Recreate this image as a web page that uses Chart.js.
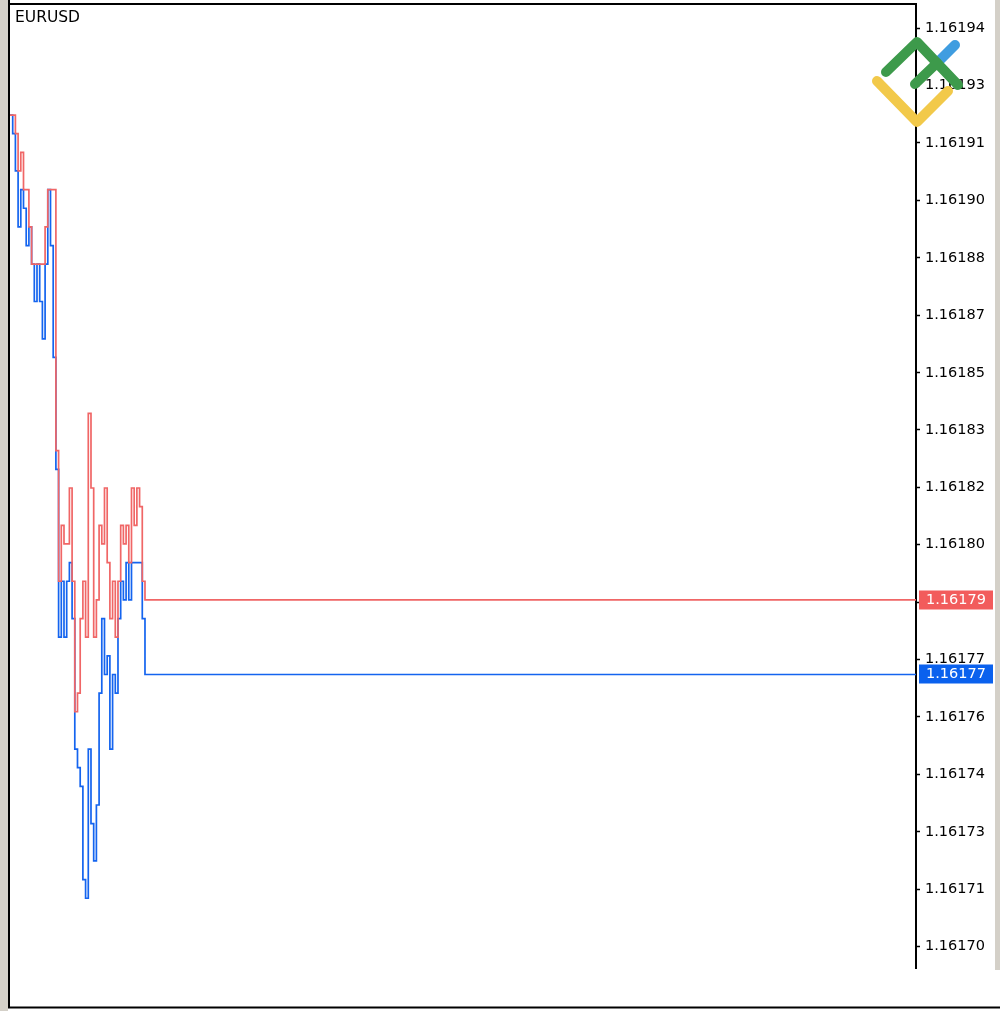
<!DOCTYPE html>
<html>
<head>
<meta charset="utf-8">
<script src="https://cdn.jsdelivr.net/npm/chart.js@4.4.1/dist/chart.umd.min.js"></script>
<style>
html,body{margin:0;padding:0;background:#fff;}
#wrap{position:relative;width:1000px;height:1011px;}
</style>
</head>
<body>
<div id="wrap"><canvas id="c"></canvas></div>
<script>
const SYMBOL = 'EURUSD';
// ask / bid per tick (one entry per tick)
const ASK = [1.16192,1.16192,1.161915,1.161905,1.16191,1.1619,1.1619,1.16189,1.16188,1.16188,
  1.16188,1.16188,1.16188,1.16189,1.1619,1.1619,1.1619,1.16183,1.161795,1.16181,
  1.161805,1.161805,1.16182,1.161795,1.16176,1.161765,1.161785,1.161795,1.16178,1.16184,
  1.16182,1.16178,1.16179,1.16181,1.161805,1.16182,1.1618,1.161785,1.161795,1.16178,
  1.161795,1.16181,1.161805,1.16181,1.1618,1.16182,1.16181,1.16182,1.161815,1.161795,
  1.16179];
const BID = [1.16192,1.161915,1.161905,1.16189,1.1619,1.161895,1.161885,1.16189,1.16188,1.16187,
  1.16188,1.16187,1.16186,1.16188,1.1619,1.161885,1.161855,1.161825,1.16178,1.161795,
  1.16178,1.161795,1.1618,1.161785,1.16175,1.161745,1.16174,1.161715,1.16171,1.16175,
  1.16173,1.16172,1.161735,1.161765,1.161785,1.16177,1.161775,1.16175,1.16177,1.161765,
  1.161785,1.161795,1.16179,1.1618,1.16179,1.1618,1.1618,1.1618,1.1618,1.161785,
  1.16177];
const X_END = 335.6;            // tick slot at the price scale
const Y_MIN = 1.1616913, Y_MAX = 1.1619495;
const TICK_VALUES = [1.1619433,1.1619279,1.1619125,1.1618971,1.1618817,1.1618663,1.1618509,1.1618356,
  1.1618202,1.1618048,1.1617894,1.1617740,1.1617586,1.1617432,1.1617278,1.1617124,1.1616971];
const TICK_LABELS = ['1.16194','1.16193','1.16191','1.16190','1.16188','1.16187','1.16185','1.16183',
  '1.16182','1.16180','1.16179','1.16177','1.16176','1.16174','1.16173','1.16171','1.16170'];

const RED = '#f06666', RED_TAG = '#f25c5c';
const BLUE = '#1464ef', BLUE_TAG = '#0a61ee';
const FONT = '14.5px "DejaVu Sans"';

// last tick is held until the price scale
const toPts = arr => arr.map((v,i)=>({x:i, y:v})).concat([{x:X_END, y:arr[arr.length-1]}]);

function drawStroke(ctx, pts, color){
  ctx.strokeStyle = color;
  ctx.beginPath();
  ctx.moveTo(pts[0][0], pts[0][1]);
  for(let i=1;i<pts.length;i++) ctx.lineTo(pts[i][0], pts[i][1]);
  ctx.stroke();
}

const Frame = {
  id:'frame',
  beforeDraw(chart){
    const {ctx, width, height, chartArea:a} = chart;
    ctx.save();
    ctx.fillStyle = '#fff'; ctx.fillRect(0,0,width,height);
    ctx.fillStyle = '#d4d0c8';
    ctx.fillRect(0,0,8,height);
    ctx.fillRect(width-5,0,5,a.bottom+2);
    ctx.strokeStyle = '#000'; ctx.lineWidth = 2;
    ctx.beginPath();
    ctx.moveTo(9,0); ctx.lineTo(9,height-3);
    ctx.moveTo(8,a.top-1); ctx.lineTo(a.right+1,a.top-1);
    ctx.moveTo(8,height-3.5); ctx.lineTo(width,height-3.5);
    ctx.stroke();
    ctx.restore();
  },
  afterDraw(chart){
    const {ctx, chartArea:a} = chart;
    const y = chart.scales.y;
    ctx.save();
    ctx.font = FONT; ctx.textBaseline = 'middle'; ctx.textAlign = 'left';
    [[ASK, RED_TAG],[BID, BLUE_TAG]].forEach(([arr, bg])=>{
      const v = arr[arr.length-1];
      const py = Math.round(y.getPixelForValue(v));
      ctx.fillStyle = bg; ctx.fillRect(a.right+3, py-9.5, 74, 19);
      ctx.fillStyle = '#fff'; ctx.fillText(v.toFixed(5), a.right+10, py+0.5);
    });
    ctx.fillStyle = '#000'; ctx.font = '15.5px "DejaVu Sans"';
    ctx.fillText(SYMBOL, 15, 18);
    // watermark logo
    ctx.lineWidth = 10; ctx.lineCap = 'round'; ctx.lineJoin = 'round';
    drawStroke(ctx, [[877,81],[917,122],[948,91]], '#f2c94a');
    drawStroke(ctx, [[937,63],[955,45]], '#3f9de0');
    drawStroke(ctx, [[886,72],[917,42],[958,85]], '#3d9a4b');
    drawStroke(ctx, [[915,84],[937,63]], '#3d9a4b');
    ctx.restore();
  }
};

const chart = new Chart(document.getElementById('c').getContext('2d'), {
  type:'line',
  data:{datasets:[
    {label:'Ask', data:toPts(ASK), borderColor:RED, borderWidth:1.7, stepped:true, pointRadius:0, fill:false},
    {label:'Bid', data:toPts(BID), borderColor:BLUE, borderWidth:1.7, stepped:true, pointRadius:0, fill:false}
  ]},
  options:{
    responsive:true, maintainAspectRatio:false, animation:false,
    layout:{padding:{left:10, top:5, right:0, bottom:43}},
    plugins:{legend:{display:false}, tooltip:{enabled:false}},
    scales:{
      x:{type:'linear', min:0, max:X_END, display:false},
      y:{type:'linear', position:'right', min:Y_MIN, max:Y_MAX,
        afterFit(s){ s.width = 84; s.paddingTop = 0; s.paddingBottom = 0; },
        afterBuildTicks(s){ s.ticks = TICK_VALUES.map(v=>({value:v})); },
        grid:{drawOnChartArea:false, drawTicks:true, tickLength:4, tickColor:'#000', tickWidth:1.5},
        border:{display:true, color:'#000', width:2},
        ticks:{color:'#000', padding:5, font:{family:'DejaVu Sans', size:14.5},
          callback:(v,i)=>TICK_LABELS[i]}
      }
    }
  },
  plugins:[Frame]
});
</script>
</body>
</html>
